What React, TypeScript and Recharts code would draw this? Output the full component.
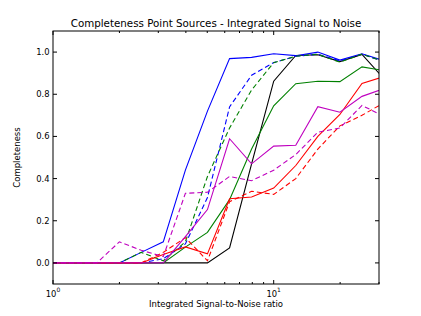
import { LineChart, Line, XAxis, YAxis } from 'recharts';

// integrated S/N bins (log spaced, 0.1 dex)
const snr = [1.0, 1.26, 1.58, 2.0, 2.51, 3.16, 3.98, 5.01, 6.31, 7.94, 10.0, 12.59, 15.85, 19.95, 25.12, 31.62];

const blackSolid = [0, 0, 0, 0, 0, 0, 0, 0, 0.071, 0.47, 0.862, 0.984, 0.987, 0.955, 0.989, 0.873];
const blueSolid = [0, 0, 0, 0, 0.05, 0.1, 0.44, 0.72, 0.969, 0.975, 0.992, 0.983, 1.0, 0.962, 0.992, 0.959];
const blueDashed = [0, 0, 0, 0, 0, 0.02, 0.09, 0.31, 0.74, 0.89, 0.95, 0.98, 0.99, 0.958, 0.99, 0.955];
const greenSolid = [0, 0, 0, 0, 0, 0, 0.075, 0.145, 0.3, 0.54, 0.745, 0.85, 0.862, 0.86, 0.93, 0.912];
const greenDashed = [0, 0, 0, 0, 0.05, 0.01, 0.1, 0.41, 0.64, 0.82, 0.95, 0.98, 0.99, 0.952, 0.99, 0.955];
const redSolid = [0, 0, 0, 0, 0, 0.04, 0.076, 0.043, 0.304, 0.313, 0.355, 0.462, 0.6, 0.704, 0.851, 0.884];
const redDashed = [0, 0, 0, 0, 0, 0.05, 0.12, 0.01, 0.29, 0.34, 0.325, 0.4, 0.54, 0.65, 0.7, 0.76];
const magentaSolid = [0, 0, 0, 0, 0, 0, 0.125, 0.253, 0.589, 0.47, 0.554, 0.558, 0.741, 0.715, 0.79, 0.827];
const magentaDashed = [0, 0, 0, 0.1, 0.06, 0.03, 0.33, 0.335, 0.41, 0.39, 0.44, 0.514, 0.62, 0.64, 0.747, 0.695];

const xTicks = [1, 2, 3, 4, 5, 6, 7, 8, 9, 10, 20, 30];
const xMajor = [1, 10];
const yTicks = [0, 0.2, 0.4, 0.6, 0.8, 1.0];

const title = 'Completeness Point Sources - Integrated Signal to Noise';
const xLabel = 'Integrated Signal-to-Noise ratio';
const yLabel = 'Completeness';

const W = 421;
const H = 316;
const LEFT = 53;
const RIGHT = 379;
const TOP = 31;
const BOTTOM = 284;
const FONT = '"DejaVu Sans", Verdana, sans-serif';

const data = snr.map((s, i) => ({
  snr: s,
  blackSolid: blackSolid[i],
  blueSolid: blueSolid[i],
  blueDashed: blueDashed[i],
  greenSolid: greenSolid[i],
  greenDashed: greenDashed[i],
  redSolid: redSolid[i],
  redDashed: redDashed[i],
  magentaSolid: magentaSolid[i],
  magentaDashed: magentaDashed[i],
}));

const series = [
  { key: 'blackSolid', color: '#000000', dashed: false },
  { key: 'blueSolid', color: '#0000ff', dashed: false },
  { key: 'blueDashed', color: '#0000ff', dashed: true },
  { key: 'greenSolid', color: '#008000', dashed: false },
  { key: 'greenDashed', color: '#008000', dashed: true },
  { key: 'redSolid', color: '#ff0000', dashed: false },
  { key: 'redDashed', color: '#ff0000', dashed: true },
  { key: 'magentaSolid', color: '#bf00bf', dashed: false },
  { key: 'magentaDashed', color: '#bf00bf', dashed: true },
];

function XTick({ x, payload }: any) {
  const v = payload.value;
  const major = xMajor.includes(v);
  const len = major ? 4 : 2;
  return (
    <g>
      <line x1={x} x2={x} y1={BOTTOM} y2={BOTTOM - len} stroke="#000" strokeWidth={1} />
      <line x1={x} x2={x} y1={TOP} y2={TOP + len} stroke="#000" strokeWidth={1} />
      {major && (
        <text x={x} y={BOTTOM + 12.5} textAnchor="middle" fontSize={8.4} fontFamily={FONT} fill="#000">
          10
          <tspan dy={-5} fontSize={6}>{Math.round(Math.log10(v))}</tspan>
        </text>
      )}
    </g>
  );
}

function YTick({ y, payload }: any) {
  return (
    <g>
      <line x1={LEFT} x2={LEFT + 4} y1={y} y2={y} stroke="#000" strokeWidth={1} />
      <line x1={RIGHT - 4} x2={RIGHT} y1={y} y2={y} stroke="#000" strokeWidth={1} />
      <text x={LEFT - 3.5} y={y} dy="0.35em" textAnchor="end" fontSize={8.4} fontFamily={FONT} fill="#000">
        {payload.value.toFixed(1)}
      </text>
    </g>
  );
}

export default function App() {
  return (
    <div style={{ position: 'absolute', left: 0, top: 0, width: W, height: H, background: '#fff' }}>
      <LineChart width={W} height={H} data={data} margin={{ top: TOP, right: W - RIGHT, bottom: 0, left: 0 }}>
        <XAxis
          dataKey="snr"
          type="number"
          scale="log"
          domain={[1, 30]}
          allowDataOverflow
          ticks={xTicks}
          interval={0}
          tick={<XTick />}
          tickLine={false}
          axisLine={false}
          tickSize={0}
          height={H - BOTTOM}
        />
        <YAxis
          type="number"
          domain={[-0.1, 1.1]}
          allowDataOverflow
          ticks={yTicks}
          interval={0}
          tick={<YTick />}
          tickLine={false}
          axisLine={false}
          tickSize={0}
          width={LEFT}
        />
        {series.map((s) => (
          <Line
            key={s.key}
            dataKey={s.key}
            type="linear"
            stroke={s.color}
            strokeWidth={1.1}
            strokeDasharray={s.dashed ? '5 3' : undefined}
            dot={false}
            activeDot={false}
            isAnimationActive={false}
          />
        ))}
      </LineChart>
      <svg width={W} height={H} style={{ position: 'absolute', left: 0, top: 0, pointerEvents: 'none' }}>
        <rect x={LEFT} y={TOP} width={RIGHT - LEFT} height={BOTTOM - TOP} fill="none" stroke="#000" strokeWidth={1} />
        <text x={(LEFT + RIGHT) / 2} y={27} textAnchor="middle" fontSize={10.3} fontFamily={FONT} fill="#000">
          {title}
        </text>
        <text x={(LEFT + RIGHT) / 2} y={307} textAnchor="middle" fontSize={8.5} fontFamily={FONT} fill="#000">
          {xLabel}
        </text>
        <text
          x={20}
          y={(TOP + BOTTOM) / 2}
          textAnchor="middle"
          fontSize={8.5}
          fontFamily={FONT}
          fill="#000"
          transform={`rotate(-90 20 ${(TOP + BOTTOM) / 2})`}
        >
          {yLabel}
        </text>
      </svg>
    </div>
  );
}
